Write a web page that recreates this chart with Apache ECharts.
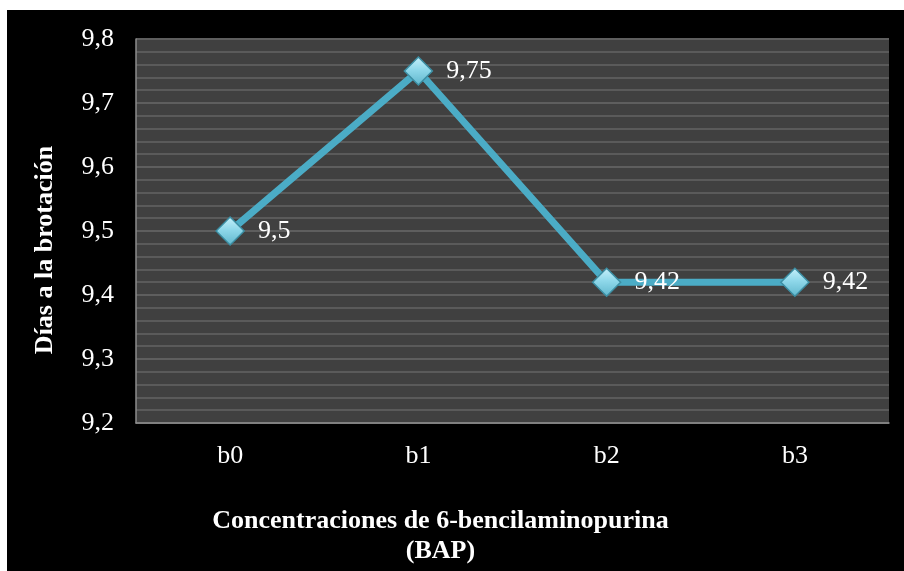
<!DOCTYPE html>
<html>
<head>
<meta charset="utf-8">
<script src="https://cdn.jsdelivr.net/npm/echarts@6/dist/echarts.min.js"></script>
<style>
  html, body { margin: 0; padding: 0; background: #ffffff; width: 904px; height: 571px; overflow: hidden; }
  #chart { position: absolute; left: 7px; top: 10px; width: 897px; height: 561px; }
</style>
</head>
<body>
<div id="chart"></div>
<script>
// Días a la brotación por concentración de BAP
const categories = ['b0', 'b1', 'b2', 'b3'];
const diasBrotacion = [9.5, 9.75, 9.42, 9.42];
const yTicks = { min: 9.2, max: 9.8, interval: 0.1 };

const serif = '"Liberation Serif", "Times New Roman", serif';
const comma = v => String(v).replace('.', ',');

const chart = echarts.init(document.getElementById('chart'));
chart.setOption({
  backgroundColor: '#000000',
  animation: false,
  grid: {
    left: 129, right: 15, top: 29, bottom: 143,
    show: true, backgroundColor: '#404040', borderWidth: 0
  },
  xAxis: {
    type: 'category',
    data: categories,
    boundaryGap: true,
    axisLine: { lineStyle: { color: '#8c8c8c', width: 1.5 } },
    axisTick: { show: false },
    axisLabel: { color: '#ffffff', fontFamily: serif, fontSize: 26, margin: 20 },
    name: 'Concentraciones de 6-bencilaminopurina\n(BAP)',
    nameLocation: 'middle',
    nameGap: 83,
    nameTextStyle: {
      color: '#ffffff', fontFamily: serif, fontSize: 26, fontWeight: 'bold', lineHeight: 30,
      padding: [0, 144, 0, 0]
    }
  },
  yAxis: {
    type: 'value',
    min: yTicks.min, max: yTicks.max, interval: yTicks.interval,
    axisLine: { show: true, lineStyle: { color: '#8c8c8c', width: 1.5 } },
    axisTick: { show: false },
    axisLabel: { color: '#ffffff', fontFamily: serif, fontSize: 26, margin: 22, formatter: v => comma(+v.toFixed(1)) },
    splitLine: { show: true, lineStyle: { color: '#5e5e5e', width: 2 } },
    minorTick: { show: false, splitNumber: 5 },
    minorSplitLine: { show: true, lineStyle: { color: '#5a5a5a', width: 2 } },
    name: 'Días a la brotación',
    nameLocation: 'middle',
    nameGap: 78,
    nameTextStyle: {
      color: '#ffffff', fontFamily: serif, fontSize: 26, fontWeight: 'bold',
      padding: [0, 38, 0, 0]
    }
  },
  series: [{
    type: 'line',
    data: diasBrotacion,
    lineStyle: { color: '#4bacc6', width: 7 },
    symbol: 'diamond',
    symbolSize: 28,
    itemStyle: {
      color: new echarts.graphic.LinearGradient(0, 0, 0, 1, [
        { offset: 0, color: '#c9f1fb' },
        { offset: 0.45, color: '#8fd8ea' },
        { offset: 1, color: '#5fb6cc' }
      ]),
      borderColor: '#3c8ea3',
      borderWidth: 1.5
    },
    label: {
      show: true,
      position: 'right',
      distance: 13,
      color: '#ffffff',
      fontFamily: serif,
      fontSize: 26,
      formatter: p => comma(p.value)
    },
    z: 3
  }]
});
</script>
</body>
</html>
